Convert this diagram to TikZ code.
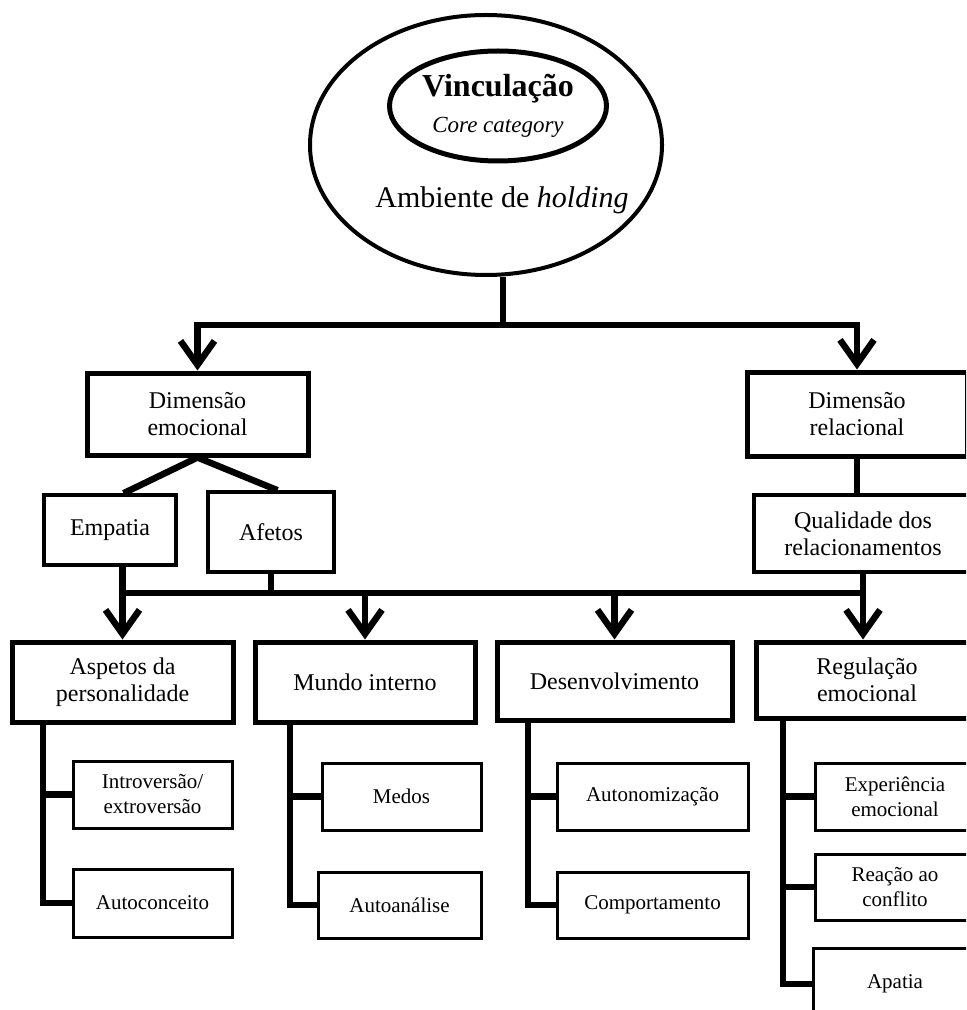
\documentclass[tikz,border=0pt]{standalone}
\usepackage{fontspec}
\setmainfont{Liberation Serif}
\usetikzlibrary{arrows.meta,shapes.geometric,calc}
\newcommand{\catFont}{\fontsize{12}{13.5}\selectfont}
\newcommand{\leafFont}{\fontsize{10.5}{12.5}\selectfont}

\begin{document}
\begin{tikzpicture}[x=0.5pt, y=-0.5pt]
  \tikzset{
    catbox/.style={draw, line width=2.5pt, align=center, font=\catFont, inner sep=0pt},
    subbox/.style={draw, line width=1.75pt, align=center, font=\catFont, inner sep=0pt},
    leafbox/.style={draw, line width=1.5pt, align=center, font=\leafFont, inner sep=0pt},
    boxsize/.style 2 args={minimum width=#1, minimum height=#2},
    link/.style={line width=3.25pt},
    linkarrow/.style={link, -{Straight Barb[length=12pt,width=17pt]}}
  }
  \useasboundingbox (0,0) rectangle (966,1010);
  \clip (0,0) rectangle (966,1010);

  % core category
  \node[draw, ellipse, line width=2pt, boxsize={176pt}{130pt}] (hold) at (486,145) {};
  \node[draw, ellipse, line width=2.5pt, boxsize={108.5pt}{55pt}, inner sep=0pt, align=center] (vinc) at (498,106)
    {\fontsize{16}{18}\selectfont\bfseries Vinculação\\[6pt]\fontsize{11.5}{14}\selectfont\itshape Core category};
  \node[font=\fontsize{15}{18}\selectfont] (amb) at (502,200) {Ambiente de \textit{holding}};

  % dimensions
  \node[catbox, boxsize={110.5pt}{41pt}] (demo) at (197.5,414) {Dimensão\\emocional};
  \node[catbox, boxsize={110pt}{42pt}] (drel) at (857,414) {Dimensão\\relacional};
  \node[subbox, boxsize={66pt}{35pt}] (emp) at (110,530) {Empatia};
  \node[subbox, boxsize={63pt}{40pt}] (afe) at (271,532) {Afetos};
  \node[subbox, boxsize={109pt}{38.5pt}] (qual) at (863,533.5) {Qualidade dos\\relacionamentos};

  % categories
  \node[catbox, boxsize={110.5pt}{40pt}] (asp) at (122.5,682) {Aspetos da\\personalidade};
  \node[catbox, boxsize={110pt}{40pt}] (mundo) at (365,682) {Mundo interno};
  \node[catbox, boxsize={117.5pt}{39pt}] (desen) at (614.5,681) {Desenvolvimento};
  \node[catbox, boxsize={111pt}{38pt}] (regul) at (867,680) {Regulação\\emocional};

  % subcategories
  \node[leafbox, boxsize={79.5pt}{33.5pt}] (intro) at (152.5,794.5) {Introversão/\\extroversão};
  \node[leafbox, boxsize={79.5pt}{34pt}] (autoc) at (152.5,903) {Autoconceito};
  \node[leafbox, boxsize={79.5pt}{33.5pt}] (medos) at (401.5,796.5) {Medos};
  \node[leafbox, boxsize={81.5pt}{33pt}] (autoa) at (399.5,905) {Autoanálise};
  \node[leafbox, boxsize={95.5pt}{33.5pt}] (auton) at (652.5,796.5) {Autonomização};
  \node[leafbox, boxsize={95.5pt}{33pt}] (comp) at (652.5,905) {Comportamento};
  \node[leafbox, boxsize={80pt}{33.5pt}] (exper) at (895,796.5) {Experiência\\emocional};
  \node[leafbox, boxsize={80pt}{33pt}] (reac) at (895,887) {Reação ao\\conflito};
  \node[leafbox, boxsize={82pt}{36pt}] (apat) at (895,984) {Apatia};

  % top split
  \coordinate (bar1) at (503,325);
  \draw[link] (bar1 |- hold.south) -- (bar1);
  \draw[link, line cap=rect] (demo.north |- bar1) -- (drel.north |- bar1);
  \draw[linkarrow] (demo.north |- bar1) -- (demo.north);
  \draw[linkarrow] (drel.north |- bar1) -- (drel.north);

  \draw[link] ($(emp.north west)!0.6!(emp.north east)$) -- (demo.south) -- ($(afe.north west)!0.55!(afe.north east)$);
  \draw[link] (drel.south) -- (drel.south |- qual.north);

  % middle split
  \coordinate (bar2) at (0,593);
  \draw[link] (asp.north |- emp.south) -- (asp.north |- bar2);
  \draw[link] (afe.south) -- (afe.south |- bar2);
  \draw[link, line cap=rect] (asp.north |- bar2) -- (qual.south |- bar2);
  \draw[linkarrow] (asp.north |- bar2) -- (asp.north);
  \draw[linkarrow] (mundo.north |- bar2) -- (mundo.north);
  \draw[linkarrow] (desen.north |- bar2) -- (desen.north);
  \draw[linkarrow] (qual.south) -- (qual.south |- regul.north);

  % branches
  \coordinate (aspStem) at (43,0);
  \draw[link] (aspStem |- asp.south) |- (autoc.west);
  \draw[link] (aspStem |- intro.west) -- (intro.west);
  \coordinate (mundoStem) at (290,0);
  \draw[link] (mundoStem |- mundo.south) |- (autoa.west);
  \draw[link] (mundoStem |- medos.west) -- (medos.west);
  \coordinate (desenStem) at (528,0);
  \draw[link] (desenStem |- desen.south) |- (comp.west);
  \draw[link] (desenStem |- auton.west) -- (auton.west);
  \coordinate (regulStem) at (783,0);
  \draw[link] (regulStem |- regul.south) |- (apat.west);
  \draw[link] (regulStem |- exper.west) -- (exper.west);
  \draw[link] (regulStem |- reac.west) -- (reac.west);
\end{tikzpicture}
\end{document}
